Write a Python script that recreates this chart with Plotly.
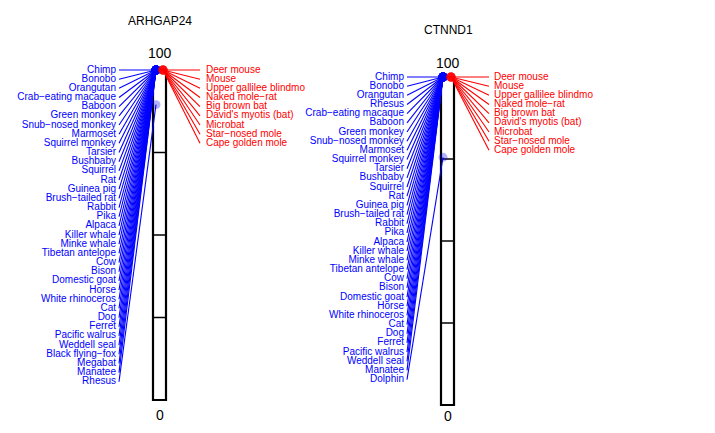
import plotly.graph_objects as go

# ---------------- data ----------------
genes = ["ARHGAP24", "CTNND1"]

blue_species_1 = ["Chimp", "Bonobo", "Orangutan", "Crab−eating macaque", "Baboon", "Green monkey",
                  "Snub−nosed monkey", "Marmoset", "Squirrel monkey", "Tarsier", "Bushbaby", "Squirrel",
                  "Rat", "Guinea pig", "Brush−tailed rat", "Rabbit", "Pika", "Alpaca", "Killer whale",
                  "Minke whale", "Tibetan antelope", "Cow", "Bison", "Domestic goat", "Horse",
                  "White rhinoceros", "Cat", "Dog", "Ferret", "Pacific walrus", "Weddell seal",
                  "Black flying−fox", "Megabat", "Manatee", "Rhesus"]
blue_values_1 = [100] * 34 + [89.5]

red_species_1 = ["Deer mouse", "Mouse", "Upper gallilee blindmo", "Naked mole−rat", "Big brown bat",
                 "David's myotis (bat)", "Microbat", "Star−nosed mole", "Cape golden mole"]
red_values_1 = [100] * 9

blue_species_2 = ["Chimp", "Bonobo", "Orangutan", "Rhesus", "Crab−eating macaque", "Baboon", "Green monkey",
                  "Snub−nosed monkey", "Marmoset", "Squirrel monkey", "Tarsier", "Bushbaby", "Squirrel",
                  "Rat", "Guinea pig", "Brush−tailed rat", "Rabbit", "Pika", "Alpaca", "Killer whale",
                  "Minke whale", "Tibetan antelope", "Cow", "Bison", "Domestic goat", "Horse",
                  "White rhinoceros", "Cat", "Dog", "Ferret", "Pacific walrus", "Weddell seal",
                  "Manatee", "Dolphin"]
blue_values_2 = [100] * 33 + [75.5]

red_species_2 = ["Deer mouse", "Mouse", "Upper gallilee blindmo", "Naked mole−rat", "Big brown bat",
                 "David's myotis (bat)", "Microbat", "Star−nosed mole", "Cape golden mole"]
red_values_2 = [100] * 9

scale_ticks = [25, 50, 75]
scale_labels = ["0", "100"]

# ---------------- layout (page-pixel geometry) ----------------
PAGE_W, PAGE_H = 715, 433
OFF = 8                      # default body margin of the html page
FW, FH = PAGE_W - 2 * OFF, PAGE_H - 2 * OFF
FONT = "Liberation Sans, Arial, Helvetica, sans-serif"
BLUE = "#0000FF"
RED = "#FF0000"
panels = [
    dict(blue=blue_species_1, bval=blue_values_1, red=red_species_1, rval=red_values_1,
         bar_x0=153, bar_x1=166, bdot=156, rdot=163, bline=119, rline=200, blab=116, rlab=206,
         top_px=70, bot_px=400, title_px=21, hundred_px=53, zero_px=415, cx=160),
    dict(blue=blue_species_2, bval=blue_values_2, red=red_species_2, rval=red_values_2,
         bar_x0=441, bar_x1=454, bdot=443, rdot=451, bline=407, rline=489, blab=404, rlab=494,
         top_px=77, bot_px=405, title_px=30, hundred_px=63, zero_px=416, cx=448),
]
LABEL_STEP_PX = 9.17

fig = go.Figure()
shapes = []
annotations = []

for i, p in enumerate(panels):
    xa = "x" if i == 0 else "x2"
    ya = "y" if i == 0 else "y2"
    scale = (p["bot_px"] - p["top_px"]) / 100.0

    def v(px, p=p, scale=scale):
        return (p["bot_px"] - px) / scale

    yrange = [v(OFF + FH), v(OFF)]
    step = LABEL_STEP_PX / scale

    blue_label_y = [100 - k * step for k in range(len(p["blue"]))]
    red_label_y = [100 - k * step for k in range(len(p["red"]))]

    # blue connecting lines
    lx, ly = [], []
    for yl, val in zip(blue_label_y, p["bval"]):
        lx += [p["bline"], p["bdot"], None]
        ly += [yl, val, None]
    fig.add_trace(go.Scatter(x=lx, y=ly, mode="lines", line=dict(color=BLUE, width=1.1),
                             xaxis=xa, yaxis=ya, hoverinfo="skip", showlegend=False))
    # red connecting lines
    lx, ly = [], []
    for yl, val in zip(red_label_y, p["rval"]):
        lx += [p["rline"], p["rdot"], None]
        ly += [yl, val, None]
    fig.add_trace(go.Scatter(x=lx, y=ly, mode="lines", line=dict(color=RED, width=1.1),
                             xaxis=xa, yaxis=ya, hoverinfo="skip", showlegend=False))
    # points
    fig.add_trace(go.Scatter(x=[p["bdot"]] * len(p["bval"]), y=p["bval"], mode="markers",
                             marker=dict(color="rgba(0,0,255,0.3)", size=9, line=dict(width=0)),
                             xaxis=xa, yaxis=ya, showlegend=False, cliponaxis=False))
    fig.add_trace(go.Scatter(x=[p["rdot"]] * len(p["rval"]), y=p["rval"], mode="markers",
                             marker=dict(color="rgba(255,0,0,0.3)", size=9, line=dict(width=0)),
                             xaxis=xa, yaxis=ya, showlegend=False, cliponaxis=False))
    # labels
    fig.add_trace(go.Scatter(x=[p["blab"]] * len(p["blue"]), y=blue_label_y, text=p["blue"],
                             mode="text", textposition="middle left",
                             textfont=dict(family=FONT, size=10, color=BLUE),
                             xaxis=xa, yaxis=ya, showlegend=False, cliponaxis=False))
    fig.add_trace(go.Scatter(x=[p["rlab"]] * len(p["red"]), y=red_label_y, text=p["red"],
                             mode="text", textposition="middle right",
                             textfont=dict(family=FONT, size=10, color=RED),
                             xaxis=xa, yaxis=ya, showlegend=False, cliponaxis=False))

    # bar with ticks
    shapes.append(dict(type="rect", xref=xa, yref=ya, x0=p["bar_x0"], x1=p["bar_x1"], y0=0, y1=100,
                       line=dict(color="black", width=2.2), fillcolor="rgba(0,0,0,0)", layer="below"))
    for t in scale_ticks:
        shapes.append(dict(type="line", xref=xa, yref=ya, x0=p["bar_x0"], x1=p["bar_x1"], y0=t, y1=t,
                           line=dict(color="black", width=1.5), layer="below"))

    annotations.append(dict(xref=xa, yref=ya, x=p["cx"], y=v(p["title_px"]), text=genes[i],
                            showarrow=False, font=dict(family=FONT, size=12, color="black")))
    annotations.append(dict(xref=xa, yref=ya, x=p["cx"], y=v(p["hundred_px"]), text=scale_labels[1],
                            showarrow=False, font=dict(family=FONT, size=14, color="black")))
    annotations.append(dict(xref=xa, yref=ya, x=p["cx"], y=v(p["zero_px"]), text=scale_labels[0],
                            showarrow=False, borderpad=0,
                            font=dict(family=FONT, size=14, color="black")))

    axis_common = dict(showgrid=False, zeroline=False, showticklabels=False, showline=False,
                       ticks="", fixedrange=True)
    xr = [OFF, OFF + FW]
    if i == 0:
        fig.update_layout(xaxis=dict(range=xr, domain=[0, 1], **axis_common),
                          yaxis=dict(range=yrange, domain=[0, 1], **axis_common))
    else:
        fig.update_layout(xaxis2=dict(range=xr, domain=[0, 1], overlaying="x", **axis_common),
                          yaxis2=dict(range=yrange, domain=[0, 1], overlaying="y", **axis_common))

fig.update_layout(width=FW, height=FH, autosize=False, margin=dict(l=0, r=0, t=0, b=0),
                  paper_bgcolor="white", plot_bgcolor="white", shapes=shapes,
                  annotations=annotations, showlegend=False)

fig.write_html("out.html")
